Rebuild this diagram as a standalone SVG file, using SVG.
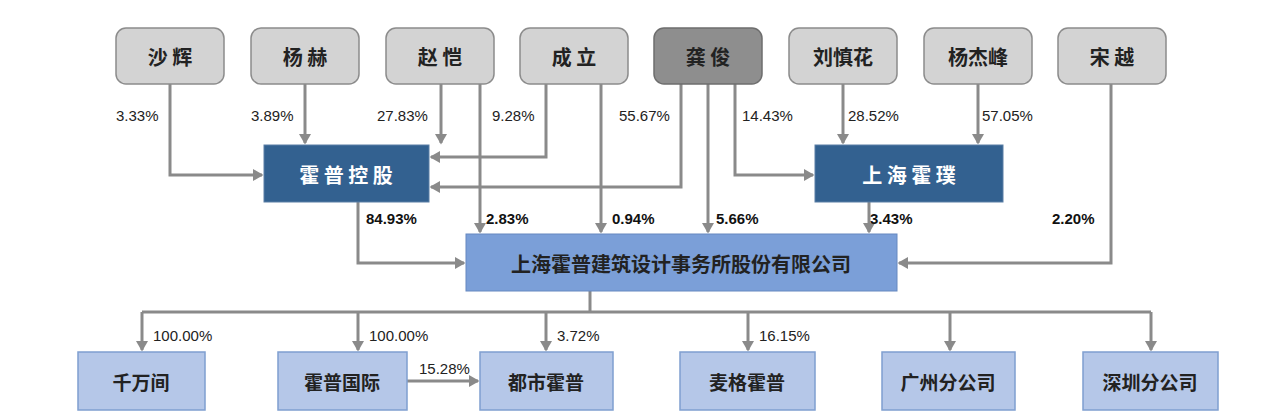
<svg xmlns="http://www.w3.org/2000/svg" width="1269" height="418" viewBox="0 0 1269 418">
<defs>
<marker id="a" markerWidth="4" markerHeight="4" refX="3" refY="2" orient="auto" markerUnits="strokeWidth"><path d="M0,0 L3.5,2 L0,4 z" fill="#8a8a8a"/></marker>
<style>
.p rect{fill:#d3d3d3;stroke:#8c8c8c;stroke-width:1.5}
.p.k rect{fill:#8e8e8e;stroke:#6e6e6e}
.t{font-family:"Noto Sans CJK SC",sans-serif;font-weight:bold;font-size:20px;text-anchor:middle;dominant-baseline:central;fill:#222}
.d rect{fill:#336190;stroke:#5b7fa5}
.d .t{fill:#fff}
.m rect{fill:#7b9fd8;stroke:#6688c0}
.b rect{fill:#b5c7e8;stroke:#7f9fd0;stroke-width:1.5}
.b .t{font-size:19px}
.c path{fill:none;stroke:#8a8a8a;stroke-width:3;marker-end:url(#a)}
.c path.n{marker-end:none}
.l{font-family:"Liberation Sans",sans-serif;font-size:15px;fill:#222}
.lb{font-family:"Liberation Sans",sans-serif;font-size:15px;font-weight:bold;fill:#111}
</style>
</defs>
<rect width="1269" height="418" fill="#fff"/>
<g id="connectors" class="c">
<path d="M170,84 V175 H262"/>
<path d="M305,84 V143"/>
<path d="M441,84 V143"/>
<path d="M480,84 V232"/>
<path d="M546,84 V157 H431"/>
<path d="M601,84 V232"/>
<path d="M681,84 V187 H431"/>
<path d="M708,84 V232"/>
<path d="M735,84 V175 H813"/>
<path d="M843,84 V143"/>
<path d="M978,84 V143"/>
<path d="M1111,84 V263 H899"/>
<path d="M358,202 V263 H464"/>
<path d="M869,202 V232"/>
<path class="n" d="M590,291 V312"/>
<path class="n" d="M142,312 H1151"/>
<path d="M142,312 V350"/>
<path d="M358,312 V350"/>
<path d="M546,312 V350"/>
<path d="M748,312 V350"/>
<path d="M950,312 V350"/>
<path d="M1151,312 V350"/>
<path d="M407,381 H478"/>
</g>
<g id="labels">
<text class="l" x="116" y="121">3.33%</text>
<text class="l" x="251" y="121">3.89%</text>
<text class="l" x="377" y="121">27.83%</text>
<text class="l" x="492" y="121">9.28%</text>
<text class="l" x="619" y="121">55.67%</text>
<text class="l" x="742" y="121">14.43%</text>
<text class="l" x="848" y="121">28.52%</text>
<text class="l" x="982" y="121">57.05%</text>
<text class="lb" x="366" y="224">84.93%</text>
<text class="lb" x="486" y="224">2.83%</text>
<text class="lb" x="612" y="224">0.94%</text>
<text class="lb" x="716" y="224">5.66%</text>
<text class="lb" x="870" y="224">3.43%</text>
<text class="lb" x="1052" y="224">2.20%</text>
<text class="l" x="153" y="341">100.00%</text>
<text class="l" x="369" y="341">100.00%</text>
<text class="l" x="557" y="341">3.72%</text>
<text class="l" x="759" y="341">16.15%</text>
<text class="l" x="419" y="374">15.28%</text>
</g>
<g id="n1" class="p"><rect x="116" y="28" width="108" height="56" rx="10"/><text class="t" x="170" y="56">沙 辉</text></g>
<g id="n2" class="p"><rect x="251" y="28" width="108" height="56" rx="10"/><text class="t" x="305" y="56">杨 赫</text></g>
<g id="n3" class="p"><rect x="386" y="28" width="108" height="56" rx="10"/><text class="t" x="440" y="56">赵 恺</text></g>
<g id="n4" class="p"><rect x="520" y="28" width="108" height="56" rx="10"/><text class="t" x="574" y="56">成 立</text></g>
<g id="n5" class="p k"><rect x="654" y="28" width="108" height="56" rx="10"/><text class="t" x="708" y="56">龚 俊</text></g>
<g id="n6" class="p"><rect x="789" y="28" width="108" height="56" rx="10"/><text class="t" x="843" y="56">刘慎花</text></g>
<g id="n7" class="p"><rect x="924" y="28" width="108" height="56" rx="10"/><text class="t" x="978" y="56">杨杰峰</text></g>
<g id="n8" class="p"><rect x="1058" y="28" width="108" height="56" rx="10"/><text class="t" x="1112" y="56">宋 越</text></g>
<g id="hpkg" class="d"><rect x="264" y="145" width="165" height="57"/><text class="t" x="346" y="174">霍 普 控 股</text></g>
<g id="shhp" class="d"><rect x="815" y="145" width="188" height="57"/><text class="t" x="909" y="174">上 海 霍 璞</text></g>
<g id="main" class="m"><rect x="466" y="234" width="431" height="57"/><text class="t" x="681" y="263">上海霍普建筑设计事务所股份有限公司</text></g>
<g id="b1" class="b"><rect x="78" y="352" width="127" height="58"/><text class="t" x="141" y="381">千万间</text></g>
<g id="b2" class="b"><rect x="278" y="352" width="129" height="58"/><text class="t" x="342" y="381">霍普国际</text></g>
<g id="b3" class="b"><rect x="480" y="352" width="133" height="58"/><text class="t" x="546" y="381">都市霍普</text></g>
<g id="b4" class="b"><rect x="680" y="352" width="135" height="58"/><text class="t" x="747" y="381">麦格霍普</text></g>
<g id="b5" class="b"><rect x="882" y="352" width="133" height="58"/><text class="t" x="948" y="381">广州分公司</text></g>
<g id="b6" class="b"><rect x="1083" y="352" width="135" height="58"/><text class="t" x="1150" y="381">深圳分公司</text></g>
</svg>
